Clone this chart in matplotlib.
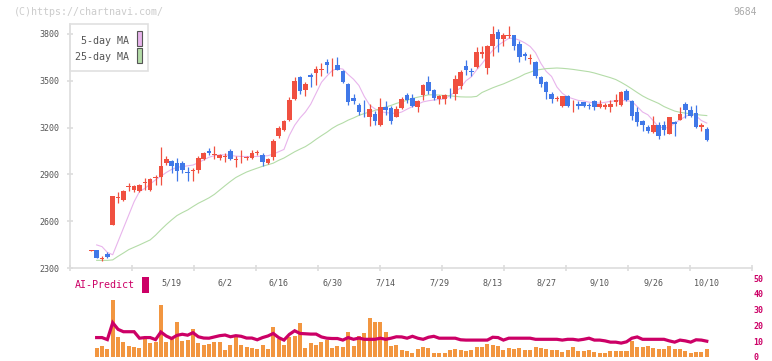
import numpy as np
import matplotlib
matplotlib.use("Agg")
import matplotlib.pyplot as plt
from matplotlib.patches import Rectangle

plt.rcParams['font.family'] = ['DejaVu Sans Mono']

# ---- data (trading-day index 0..115) ----
opens = [2412, 2414, 2360, 2388, 2578, 2748, 2737, 2818, 2801, 2796,
         2848, 2801, 2880, 2886, 2976, 2983, 2972, 2976, 2914, 2923,
         2929, 3000, 3051, 3023, 3002, 3013, 3051, 2991, 2996, 3006,
         3008, 3038, 3025, 2972, 3010, 3147, 3182, 3246, 3383, 3522,
         3443, 3539, 3550, 3566, 3619, 3599, 3598, 3560, 3479, 3390,
         3346, 3334, 3271, 3289, 3218, 3332, 3325, 3271, 3325, 3411,
         3390, 3332, 3411, 3490, 3443, 3385, 3383, 3430, 3417, 3466,
         3597, 3565, 3588, 3669, 3582, 3721, 3811, 3768, 3790, 3796,
         3738, 3674, 3640, 3619, 3524, 3490, 3417, 3385, 3340, 3404,
         3349, 3353, 3361, 3346, 3368, 3332, 3332, 3332, 3361, 3346,
         3436, 3372, 3297, 3244, 3201, 3169, 3218, 3218, 3160, 3233,
         3250, 3353, 3310, 3293, 3201, 3192]
highs = [2414, 2414, 2379, 2405, 2762, 2786, 2800, 2848, 2833, 2840,
         2880, 2875, 2897, 3077, 3015, 2993, 3004, 2983, 2950, 2940,
         3015, 3045, 3072, 3083, 3032, 3040, 3060, 3015, 3057, 3020,
         3057, 3054, 3036, 3008, 3126, 3210, 3250, 3396, 3524, 3532,
         3492, 3550, 3592, 3615, 3640, 3646, 3650, 3571, 3486, 3417,
         3357, 3379, 3353, 3304, 3390, 3368, 3340, 3340, 3396, 3422,
         3417, 3379, 3481, 3532, 3447, 3411, 3417, 3454, 3539, 3571,
         3635, 3584, 3716, 3725, 3732, 3850, 3832, 3807, 3850, 3796,
         3753, 3682, 3672, 3625, 3532, 3497, 3426, 3404, 3404, 3410,
         3374, 3370, 3365, 3360, 3380, 3380, 3356, 3380, 3417, 3432,
         3449, 3380, 3332, 3250, 3218, 3276, 3233, 3240, 3271, 3240,
         3332, 3361, 3336, 3346, 3229, 3203]
lows = [2410, 2366, 2345, 2366, 2578, 2719, 2730, 2794, 2786, 2790,
        2801, 2796, 2833, 2833, 2961, 2908, 2856, 2908, 2856, 2856,
        2912, 2995, 3025, 2998, 2995, 2982, 2990, 2946, 2972, 2995,
        3000, 3027, 2955, 2965, 2993, 3135, 3175, 3240, 3379, 3417,
        3404, 3458, 3475, 3528, 3550, 3528, 3571, 3486, 3346, 3353,
        3282, 3271, 3207, 3218, 3212, 3282, 3225, 3267, 3318, 3357,
        3332, 3297, 3379, 3417, 3379, 3353, 3353, 3390, 3379, 3447,
        3539, 3528, 3582, 3646, 3546, 3657, 3682, 3721, 3774, 3696,
        3618, 3631, 3608, 3520, 3458, 3385, 3357, 3368, 3330, 3330,
        3297, 3320, 3330, 3320, 3315, 3325, 3320, 3300, 3340, 3340,
        3368, 3250, 3212, 3175, 3165, 3165, 3128, 3150, 3160, 3147,
        3250, 3261, 3271, 3197, 3175, 3115]
closes = [2414, 2366, 2364, 2373, 2762, 2752, 2794, 2822, 2828, 2833,
          2852, 2871, 2884, 2955, 2998, 2957, 2923, 2930, 2910, 2927,
          3004, 3036, 3034, 3027, 3025, 3017, 3000, 2995, 3000, 3010,
          3040, 3042, 2982, 3000, 3117, 3197, 3240, 3379, 3500, 3432,
          3481, 3522, 3575, 3575, 3598, 3603, 3571, 3494, 3361, 3372,
          3297, 3330, 3318, 3240, 3332, 3314, 3240, 3318, 3383, 3379,
          3340, 3372, 3475, 3433, 3387, 3404, 3411, 3426, 3513, 3556,
          3566, 3554, 3682, 3687, 3725, 3800, 3768, 3796, 3796, 3721,
          3650, 3657, 3644, 3528, 3479, 3426, 3385, 3389, 3404, 3340,
          3353, 3340, 3340, 3336, 3332, 3353, 3346, 3353, 3374, 3426,
          3374, 3276, 3233, 3218, 3180, 3218, 3143, 3182, 3271, 3225,
          3289, 3310, 3276, 3201, 3218, 3122]
ma5 = [np.nan, 2448, 2437, 2400, 2385, 2470, 2555, 2640, 2725, 2790,
       2810, 2838, 2865, 2888, 2912, 2932, 2945, 2950, 2955, 2960,
       2975, 2993, 3010, 3020, 3025, 3025, 3022, 3017, 3015, 3015,
       3015, 3015, 3017, 3020, 3030, 3045, 3060, 3150, 3215, 3262,
       3300, 3350, 3420, 3490, 3530, 3565, 3580, 3575, 3540, 3510,
       3470, 3400, 3345, 3320, 3304, 3296, 3293, 3290, 3300, 3318,
       3335, 3350, 3365, 3372, 3377, 3380, 3383, 3405, 3430, 3455,
       3500, 3525, 3570, 3610, 3655, 3695, 3727, 3750, 3772, 3772,
       3760, 3743, 3720, 3680, 3612, 3560, 3528, 3460, 3420, 3396,
       3385, 3374, 3370, 3363, 3358, 3357, 3362, 3368, 3372, 3374,
       3372, 3368, 3335, 3300, 3282, 3244, 3205, 3198, 3200, 3229,
       3250, 3271, 3286, 3275, 3245, 3229]
ma25 = [np.nan, 2349, 2349, 2349, 2352, 2375, 2396, 2418, 2433, 2448,
        2464, 2480, 2510, 2545, 2578, 2608, 2636, 2655, 2672, 2694,
        2715, 2732, 2750, 2772, 2800, 2828, 2855, 2880, 2898, 2915,
        2928, 2940, 2952, 2962, 2972, 2990, 3005, 3025, 3045, 3062,
        3078, 3100, 3125, 3148, 3170, 3195, 3215, 3230, 3248, 3262,
        3278, 3290, 3300, 3310, 3322, 3332, 3342, 3355, 3365, 3375,
        3387, 3395, 3402, 3410, 3410, 3408, 3406, 3404, 3400, 3397,
        3396, 3396, 3400, 3425, 3440, 3455, 3468, 3480, 3495, 3510,
        3525, 3543, 3555, 3568, 3573, 3578, 3580, 3582, 3580, 3577,
        3573, 3568, 3563, 3558, 3550, 3540, 3530, 3520, 3508, 3490,
        3470, 3448, 3425, 3403, 3385, 3370, 3355, 3335, 3320, 3306,
        3298, 3293, 3288, 3284, 3280, 3277]
volume = [np.nan, 5.6, 6.9, 5.2, 35.8, 12.9, 9.6, 6.9, 6.25, 5.8,
          11.7, 9.0, 9.6, 33.1, 9.6, 11.7, 22.1, 10.2, 10.8, 17.5,
          8.75, 7.5, 8.3, 9.4, 9.4, 4.6, 7.5, 12.9, 7.5, 6.25,
          5.6, 5.2, 7.5, 5.0, 19.0, 11.7, 7.5, 12.5, 13.1, 21.5,
          5.4, 8.75, 7.3, 9.4, 10.8, 5.4, 7.1, 6.25, 15.8, 6.7,
          13.5, 15.0, 25.0, 22.1, 22.1, 15.8, 7.1, 7.5, 4.6, 3.75,
          2.5, 5.0, 6.25, 5.6, 2.5, 2.5, 2.5, 4.4, 5.0, 4.4,
          3.5, 4.4, 6.25, 6.25, 8.1, 7.5, 6.7, 4.2, 5.4, 4.8,
          5.6, 4.4, 4.6, 6.25, 5.4, 5.0, 4.6, 4.4, 3.1, 4.6,
          6.25, 3.75, 3.75, 4.4, 3.3, 2.5, 2.3, 3.75, 3.75, 3.75,
          3.75, 10.2, 6.25, 6.25, 6.9, 5.6, 5.0, 5.0, 6.9, 5.0,
          5.0, 3.75, 2.5, 3.1, 3.1, 5.0]
ai_predict = [np.nan, 12.3, 12.3, 11.0, 21.7, 17.5, 16.0, 16.0, 16.0, 11.9,
              12.3, 12.3, 11.0, 15.8, 13.3, 11.7, 13.7, 14.4, 13.8, 15.4,
              12.8, 12.0, 11.9, 12.7, 13.5, 13.9, 12.8, 13.5, 13.1, 12.0,
              12.0, 10.9, 12.3, 13.3, 14.9, 12.3, 10.7, 14.3, 16.6, 14.9,
              14.7, 14.5, 14.5, 12.7, 11.9, 11.7, 11.7, 10.7, 12.3, 11.2,
              12.0, 11.2, 11.2, 11.2, 11.9, 11.2, 11.9, 12.8, 12.7, 11.9,
              13.1, 11.9, 11.2, 12.5, 13.1, 11.9, 11.9, 11.9, 11.9, 10.9,
              10.7, 10.7, 10.7, 10.7, 10.7, 12.5, 12.3, 10.7, 11.9, 11.9,
              11.9, 11.9, 11.9, 11.2, 11.2, 11.2, 11.2, 11.2, 10.7, 11.2,
              11.2, 10.7, 11.2, 11.9, 10.7, 10.7, 10.2, 9.4, 9.4, 8.8,
              9.6, 11.9, 12.7, 11.2, 11.2, 11.2, 11.2, 11.2, 10.2, 9.4,
              10.7, 10.2, 9.4, 10.9, 10.7, 10.0]
date_labels = ['5/19', '6/2', '6/16', '6/30', '7/14', '7/29',
               '8/13', '8/27', '9/10', '9/26', '10/10']
date_index = [15, 25, 35, 45, 55, 65, 75, 85, 95, 105, 115]
price_ticks = [2300, 2600, 2900, 3200, 3500, 3800]
ai_ticks = [0, 10, 20, 30, 40, 50]

RED = '#f05040'
BLUE = '#4078e8'
AXC = '#dddddd'
TXT = '#555555'
MAG = '#cc0066'
PINK = '#e8b4ec'
GREEN = '#b4dca8'

o = np.array(opens, float)
c = np.array(closes, float)
x = np.arange(len(o))
up = c >= o
col = np.where(up, RED, BLUE)

fig = plt.figure(figsize=(7.72, 3.61), dpi=100)
ax = fig.add_axes([70/772, 93/361, 682/772, 244/361])
xlim = (-3.98, 123.45)

ax.vlines(x, lows, highs, colors=col, linewidth=0.9, zorder=3)
body_lo = np.minimum(o, c)
body_h = np.maximum(np.abs(c - o), 5)
ax.bar(x, body_h, bottom=body_lo, width=0.85, color=col, linewidth=0, zorder=4)
ax.plot(x, ma5, color=PINK, lw=0.8, zorder=2)
ax.plot(x, ma25, color=GREEN, lw=0.8, zorder=2)

ax.set_xlim(*xlim)
ax.set_ylim(2300, 3864)
ax.set_yticks(price_ticks)
ax.set_xticks(np.linspace(xlim[0], xlim[1], 12))
ax.set_xticklabels([])
for s in ['top', 'right']:
    ax.spines[s].set_visible(False)
for s in ['left', 'bottom']:
    ax.spines[s].set_color(AXC)
    ax.spines[s].set_linewidth(1.2)
ax.tick_params(axis='y', direction='inout', length=5, color=AXC, width=1.2,
               labelsize=6, labelcolor=TXT, pad=5)
ax.tick_params(axis='x', direction='inout', length=5, color=AXC, width=1.2)

for i, lab in zip(date_index, date_labels):
    ax.text(i, -0.06, lab, transform=ax.get_xaxis_transform(), ha='center',
            va='center', fontsize=6, color=TXT)

# legend box
fig.patches.append(Rectangle((70/772, 1 - 71/361), 78/772, 47/361,
                             transform=fig.transFigure, fill=False,
                             edgecolor='#e0e0e0', lw=1.2))
fig.text(129/772, 1 - 41/361, '5-day MA', ha='right', va='center',
         fontsize=7.2, color=TXT)
fig.text(129/772, 1 - 57/361, '25-day MA', ha='right', va='center',
         fontsize=7.2, color=TXT)
fig.patches.append(Rectangle((136.5/772, 1 - 46/361), 5.5/772, 15/361,
                             transform=fig.transFigure, facecolor=PINK,
                             edgecolor='#555555', lw=0.8))
fig.patches.append(Rectangle((136.5/772, 1 - 63/361), 5.5/772, 15/361,
                             transform=fig.transFigure, facecolor=GREEN,
                             edgecolor='#555555', lw=0.8))

# volume / AI-predict panel
ax2 = fig.add_axes([70/772, 4/361, 682/772, 79/361])
ax2.bar(x, volume, width=0.75, color='#f29640', linewidth=0)
ax2.plot(x, ai_predict, color=MAG, lw=2.3, solid_joinstyle='miter')
ax2.set_xlim(*xlim)
ax2.set_ylim(0, 50)
ax2.set_xticks([])
ax2.yaxis.tick_right()
ax2.set_yticks(ai_ticks)
ax2.tick_params(axis='y', length=0, pad=1, labelsize=6, labelcolor=MAG)
for lab in ax2.get_yticklabels():
    lab.set_fontweight('bold')
for s in ax2.spines.values():
    s.set_visible(False)
ax2.patch.set_alpha(0)

fig.text(75/772, 1 - 285.5/361, 'AI-Predict', ha='left', va='center',
         fontsize=7.2, color=MAG)
fig.patches.append(Rectangle((142/772, 1 - 293/361), 7/772, 16/361,
                             transform=fig.transFigure, facecolor=MAG,
                             edgecolor='none'))

fig.text(14/772, 1 - 12/361, '(C)https://chartnavi.com/', ha='left',
         va='center', fontsize=7.2, color='#cccccc')
fig.text(757/772, 1 - 12/361, '9684', ha='right', va='center',
         fontsize=7, color='#aaaaaa')

fig.savefig('out.png', dpi=100)
